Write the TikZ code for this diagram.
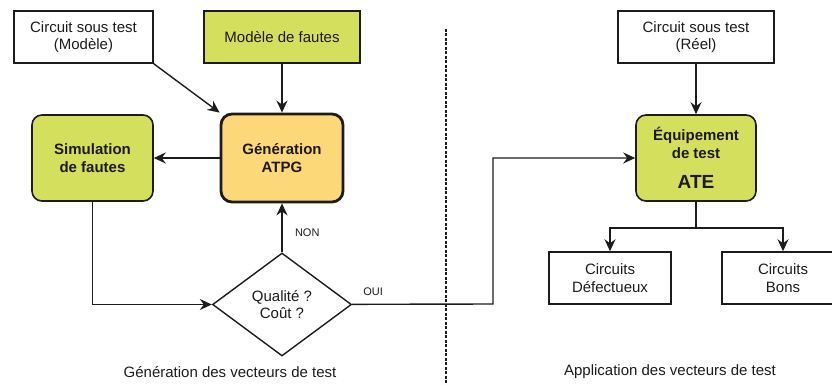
\documentclass[tikz,border=0pt]{standalone}
\usepackage{fontspec}
\setmainfont{Liberation Sans}
\usetikzlibrary{arrows.meta,positioning,shapes.geometric,calc}
\definecolor{fautegreen}{RGB}{212,223,94}
\definecolor{atpgorange}{RGB}{253,216,120}
\definecolor{trait}{RGB}{30,27,28}
\tikzstyle{circuit} = [rectangle, minimum width=139pt, minimum height=52pt, align=center, draw=trait, line width=1.5pt, fill=white, text=trait]
\tikzstyle{modele} = [rectangle, minimum width=156pt, minimum height=52pt, align=center, draw=trait, line width=1.5pt, fill=fautegreen, text=trait]
\tikzstyle{process} = [rectangle, rounded corners=10pt, minimum width=121pt, minimum height=86pt, align=center, draw=trait, line width=1.6pt, fill=fautegreen, text=trait, font=\fontsize{15}{17.5}\selectfont\bfseries]
\tikzstyle{atpg} = [rectangle, rounded corners=11pt, minimum width=122pt, minimum height=88pt, align=center, draw=trait, line width=2.8pt, fill=atpgorange, text=trait, font=\fontsize{15}{17.5}\selectfont\bfseries]
\tikzstyle{decision} = [diamond, minimum width=139pt, minimum height=103pt, inner sep=0pt, align=center, draw=trait, line width=1.4pt, fill=white, text=trait]
\tikzstyle{arrow} = [line width=1.4pt, draw=trait, -{Stealth[length=12pt,width=11pt,inset=4pt]}]
\begin{document}
\begin{tikzpicture}[x=1pt, y=-1pt, node distance=121pt, font=\fontsize{15}{17.5}\selectfont]
\useasboundingbox (0,0) rectangle (832,385);
\node (atpg) [atpg] at (282,158) {G\'en\'eration\\ATPG};
\node (mf) [modele, above of=atpg] {Mod\`ele de fautes};
\node (cm) [circuit, left of=mf, node distance=198.5pt] {Circuit sous test\\(Mod\`ele)};
\node (sim) [process, left of=atpg, node distance=189.5pt] {Simulation\\de fautes};
\node (dec) [decision, below of=atpg, node distance=146.5pt] {Qualit\'e ?\\Co\^ut ?};
\node (ate) [process, minimum width=120pt, right of=atpg, node distance=414pt] {\'Equipement\\de test\\[13pt]{\fontsize{19}{22}\selectfont ATE}};
\node (cr) [circuit, minimum width=156pt, above of=ate] {Circuit sous test\\(R\'eel)};
\node (def) [circuit, minimum width=122pt, below of=ate, node distance=120pt, xshift=-86pt] {Circuits\\D\'efectueux};
\node (bons) [circuit, minimum width=122pt, below of=ate, node distance=120pt, xshift=87pt] {Circuits\\Bons};
\node (genlbl) [text=trait] at (230,372) {G\'en\'eration des vecteurs de test};
\node (applbl) [text=trait] at (670,372) {Application des vecteurs de test};
\coordinate (turn) at (493,304);

\draw [arrow] (cm.south east) -- (atpg.north west);
\draw [arrow] (mf) -- (atpg);
\draw [arrow] (atpg) -- (sim);
\draw [arrow] (sim) |- (dec);
\draw [arrow] (dec) -- node[pos=0.41, right=9pt, font=\fontsize{11}{13}\selectfont, text=trait] {NON} (atpg);
\draw [arrow] (dec) -- node[pos=0.15, above=5pt, font=\fontsize{11}{13}\selectfont, text=trait] {OUI} (turn) |- (ate);
\draw [arrow] (cr) -- (ate);
\draw [line width=1.4pt, draw=trait] (ate.south) -- ++(0,26) coordinate (split);
\draw [arrow] (split) -| (def);
\draw [arrow] (split) -| (bons);
\draw [trait, line width=1.3pt, dash pattern=on 3pt off 1.5pt] (446,29) -- (446,385);
\end{tikzpicture}
\end{document}
